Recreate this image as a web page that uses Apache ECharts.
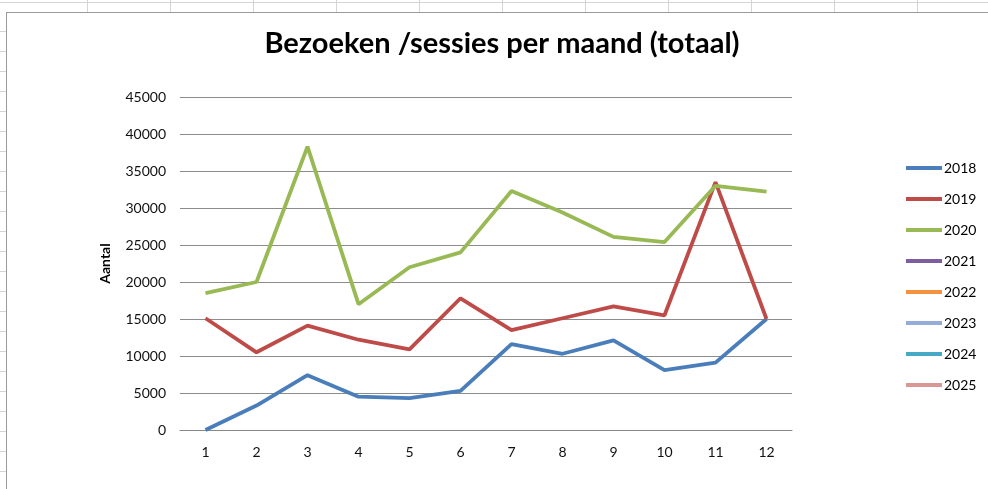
<!DOCTYPE html>
<html>
<head>
<meta charset="utf-8">
<script src="https://cdn.jsdelivr.net/npm/echarts@6/dist/echarts.min.js"></script>
<style>
  html, body { margin: 0; padding: 0; width: 988px; height: 489px; overflow: hidden; background: #fff; }
  /* spreadsheet cells behind the chart */
  #sheet {
    position: absolute; left: 0; top: 0; width: 988px; height: 489px;
    background-image:
      repeating-linear-gradient(to right, transparent 0, transparent 82px, #d4d4d4 82px, #d4d4d4 83px),
      repeating-linear-gradient(to bottom, transparent 0, transparent 19px, #d4d4d4 19px, #d4d4d4 20px);
    background-position: 5px 0, 0 12px;
  }
  #main {
    position: absolute; left: 6px; top: 12px; width: 990px; height: 485px;
    background: #fff; border-left: 1px solid #9a9a9a; border-top: 1px solid #9a9a9a;
  }
</style>
</head>
<body>
<div id="sheet"></div>
<div id="main"></div>
<script>
  // maanden
  const months = ['1', '2', '3', '4', '5', '6', '7', '8', '9', '10', '11', '12'];
  const years = ['2018', '2019', '2020', '2021', '2022', '2023', '2024', '2025'];

  const sessions2018 = [0, 3300, 7400, 4500, 4300, 5300, 11600, 10300, 12100, 8100, 9100, 15000];
  const sessions2019 = [15100, 10500, 14100, 12200, 10900, 17800, 13500, 15100, 16700, 15500, 33500, 15000];
  const sessions2020 = [18500, 20000, 38300, 17000, 22000, 24000, 32300, 29400, 26100, 25400, 33000, 32200];
  const sessions2021 = [];
  const sessions2022 = [];
  const sessions2023 = [];
  const sessions2024 = [];
  const sessions2025 = [];

  const yTicks = [0, 5000, 10000, 15000, 20000, 25000, 30000, 35000, 40000, 45000];

  const colors = ['#4a7ebb', '#be4b48', '#98b954', '#7d5fa0', '#f59240', '#95acd8', '#46aac5', '#d99795'];
  const allData = [sessions2018, sessions2019, sessions2020, sessions2021,
    sessions2022, sessions2023, sessions2024, sessions2025];

  const chart = echarts.init(document.getElementById('main'), null, { renderer: 'canvas' });

  const font = 'Lato, "Open Sans", sans-serif';

  const option = {
    animation: false,
    color: colors,
    title: {
      text: 'Bezoeken /sessies per maand (totaal)',
      left: 'center',
      top: 11,
      textStyle: { fontFamily: font, fontSize: 29, fontWeight: 'bold', color: '#000' }
    },
    legend: {
      orient: 'vertical',
      left: 894,
      top: 143,
      icon: 'rect',
      itemWidth: 36,
      itemHeight: 4,
      itemGap: 17,
      data: years,
      textStyle: { fontFamily: font, fontSize: 14, lineHeight: 14, color: '#000', padding: [0, 0, 0, -3] }
    },
    grid: { left: 173, right: 205, top: 84, bottom: 68 },
    xAxis: {
      type: 'category',
      data: months,
      boundaryGap: true,
      axisLine: { lineStyle: { color: '#888', width: 1 } },
      axisTick: { show: false },
      axisLabel: { fontFamily: font, fontSize: 14, color: '#111', margin: 15 }
    },
    yAxis: {
      type: 'value',
      min: yTicks[0],
      max: yTicks[yTicks.length - 1],
      interval: 5000,
      name: 'Aantal',
      nameLocation: 'middle',
      nameGap: 68,
      nameTextStyle: { fontFamily: font, fontSize: 14, fontWeight: 'bold', color: '#000' },
      axisLine: { show: false },
      axisTick: { show: false },
      axisLabel: { fontFamily: font, fontSize: 14, color: '#111', margin: 14, formatter: v => String(v) },
      splitLine: { lineStyle: { color: '#8c8c8c', width: 1 } }
    },
    series: years.map((y, i) => ({
      name: y,
      type: 'line',
      data: allData[i],
      symbol: 'none',
      lineStyle: { width: 3.8, color: colors[i] },
      itemStyle: { color: colors[i] }
    }))
  };

  chart.setOption(option);
</script>
</body>
</html>
